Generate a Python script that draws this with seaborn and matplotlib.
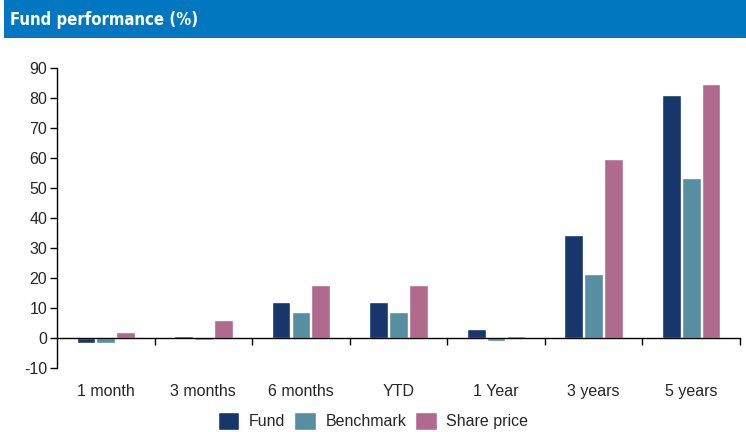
import matplotlib
matplotlib.use("Agg")
import matplotlib.pyplot as plt
import seaborn as sns
import pandas as pd
from matplotlib.patches import Rectangle
from matplotlib.ticker import FixedLocator

categories = ["1 month", "3 months", "6 months", "YTD", "1 Year", "3 years", "5 years"]
fund = [-1.7, 0.7, 12.0, 12.0, 3.0, 34.4, 81.0]
benchmark = [-1.7, -0.7, 8.7, 8.7, -1.1, 21.4, 53.4]
share_price = [2.0, 6.0, 17.7, 17.7, 0.6, 59.8, 84.8]
series_names = ["Fund", "Benchmark", "Share price"]
colors = ["#17366B", "#578EA1", "#B06A8E"]
yticks = list(range(-10, 91, 10))

rows = []
for name, vals in zip(series_names, [fund, benchmark, share_price]):
    for c, v in zip(categories, vals):
        rows.append({"Period": c, "Series": name, "Value": v})
df = pd.DataFrame(rows)

sns.set_style("white")
plt.rcParams["font.family"] = ["Liberation Sans", "DejaVu Sans"]

fig = plt.figure(figsize=(7.46, 4.32), dpi=100)
ax = fig.add_axes([57/746, 1-368/432, (740-57)/746, 300/432])

sns.barplot(data=df, x="Period", y="Value", hue="Series", order=categories,
            hue_order=series_names, palette=colors, width=0.61, gap=0.06,
            saturation=1, ax=ax, legend=True)

ax.set_xlim(-0.5, len(categories) - 0.5)
ax.set_ylim(-10, 90)
ax.set_yticks(yticks)
ax.set_yticklabels([str(t) for t in yticks], fontsize=11.5)
ax.set_xlabel("")
ax.set_ylabel("")

ax.spines["top"].set_visible(False)
ax.spines["right"].set_visible(False)
ax.spines["bottom"].set_position(("data", 0))
for s in ["left", "bottom"]:
    ax.spines[s].set_color("black")
    ax.spines[s].set_linewidth(1.0)

ax.tick_params(axis="y", which="major", direction="out", length=5, width=1, color="black", left=True, pad=2)
ax.tick_params(axis="x", which="major", length=0, pad=33, labelsize=11.5)
ax.xaxis.set_minor_locator(FixedLocator([i + 0.5 for i in range(len(categories))]))
ax.tick_params(axis="x", which="minor", direction="out", length=5, width=1, color="black", bottom=True)

handles, labels = ax.get_legend_handles_labels()
ax.legend_.remove()
fig.legend(handles, labels, loc="center", bbox_to_anchor=(0.5, 1-421/432), ncol=3,
           frameon=False, fontsize=11.5, handlelength=1.35, handleheight=1.4,
           handletextpad=0.6, columnspacing=0.55, borderaxespad=0)

fig.patches.append(Rectangle((4/746, 1-38/432), 742/746, 38/432, transform=fig.transFigure,
                             facecolor="#0077C0", edgecolor="none", zorder=0))
fig.text(10/746, 1-20/432, "Fund performance (%)", color="white", fontsize=12, fontweight="bold",
         fontstretch="condensed", va="center", ha="left",
         family=["Liberation Sans Narrow", "DejaVu Sans", "Liberation Sans"])

fig.savefig("out.png", dpi=100)
